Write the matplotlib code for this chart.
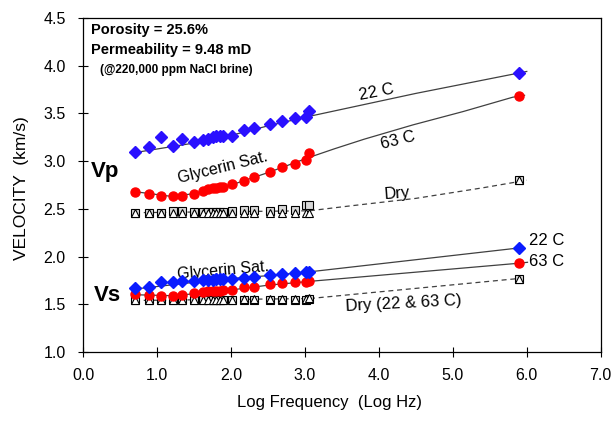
import numpy as np
import matplotlib
matplotlib.use("Agg")
import matplotlib.pyplot as plt
from matplotlib.ticker import FormatStrFormatter

plt.rcParams['font.family'] = ['Liberation Sans', 'DejaVu Sans']

# Log frequency of the low-frequency measurements (same for all series)
freq = [0.70, 0.89, 1.05, 1.22, 1.34, 1.50, 1.62, 1.69, 1.75, 1.80,
        1.85, 1.89, 2.01, 2.17, 2.31, 2.52, 2.69, 2.87, 3.01, 3.06]
freq_hi = 5.89  # ultrasonic point

# Vp, glycerin saturated
vp_22 = [3.10, 3.15, 3.25, 3.16, 3.23, 3.20, 3.22, 3.23, 3.25, 3.26,
         3.26, 3.26, 3.26, 3.33, 3.35, 3.39, 3.42, 3.45, 3.46, 3.53]
vp_63 = [2.68, 2.66, 2.64, 2.63, 2.64, 2.66, 2.69, 2.71, 2.72, 2.72,
         2.73, 2.73, 2.76, 2.79, 2.83, 2.89, 2.94, 2.97, 3.01, 3.09]
vp_22_hi = 3.92
vp_63_hi = 3.68

# Vp, dry
vp_dry22 = [2.46, 2.46, 2.46, 2.48, 2.48, 2.47, 2.47, 2.47, 2.47, 2.47,
            2.47, 2.47, 2.48, 2.49, 2.49, 2.48, 2.50, 2.49, 2.54, 2.54]
vp_dry63 = [2.46, 2.46, 2.46, 2.46, 2.46, 2.46, 2.46, 2.46, 2.46, 2.46,
            2.46, 2.46, 2.46, 2.46, 2.46, 2.46, 2.46, 2.46, 2.46, 2.46]
vp_dry_hi = 2.80

# Vs, glycerin saturated
vs_22 = [1.67, 1.68, 1.73, 1.73, 1.74, 1.74, 1.75, 1.75, 1.75, 1.76,
         1.77, 1.77, 1.77, 1.78, 1.79, 1.81, 1.82, 1.83, 1.84, 1.84]
vs_63 = [1.61, 1.60, 1.59, 1.59, 1.60, 1.62, 1.63, 1.64, 1.64, 1.64,
         1.64, 1.65, 1.65, 1.68, 1.68, 1.71, 1.72, 1.73, 1.73, 1.74]
vs_22_hi = 2.09
vs_63_hi = 1.93

# Vs, dry
vs_dry22 = [1.54, 1.54, 1.54, 1.54, 1.54, 1.54, 1.54, 1.54, 1.54, 1.54,
            1.54, 1.54, 1.54, 1.55, 1.55, 1.55, 1.55, 1.55, 1.55, 1.56]
vs_dry63 = [1.55, 1.55, 1.55, 1.55, 1.55, 1.55, 1.55, 1.55, 1.55, 1.55,
            1.55, 1.55, 1.55, 1.56, 1.56, 1.56, 1.56, 1.56, 1.56, 1.57]
vs_dry_hi = 1.77

# trend curves as drawn in the figure
tr_vp22_f = [0.70, 1.50, 2.00, 2.50, 3.06, 4.50, 6.00]
tr_vp22_v = [3.09, 3.19, 3.27, 3.37, 3.47, 3.71, 3.94]
tr_vp63_f = [0.70, 1.20, 1.50, 2.00, 2.50, 3.06, 3.40, 3.80, 4.46, 5.14, 5.81, 5.97]
tr_vp63_v = [2.68, 2.63, 2.66, 2.75, 2.88, 3.04, 3.13, 3.23, 3.38, 3.52, 3.67, 3.69]
tr_vpdry_f = [0.70, 3.06, 3.60, 4.50, 5.40, 6.00]
tr_vpdry_v = [2.46, 2.48, 2.53, 2.61, 2.72, 2.80]
tr_vs22_f = [0.70, 1.50, 2.00, 2.50, 3.06, 5.89]
tr_vs22_v = [1.66, 1.73, 1.77, 1.80, 1.84, 2.09]
tr_vs63_f = [0.70, 1.20, 1.50, 2.00, 2.50, 3.06, 5.89, 6.01]
tr_vs63_v = [1.60, 1.59, 1.61, 1.65, 1.70, 1.74, 1.93, 1.94]
tr_vsdry_f = [0.70, 3.06, 5.89, 6.00]
tr_vsdry_v = [1.54, 1.56, 1.77, 1.78]

fig = plt.figure(figsize=(6.12, 4.29), dpi=100)
ax = fig.add_axes([0.136, 0.1795, 0.8455, 0.7785])

line_c = '#404040'
ax.plot(tr_vp22_f, tr_vp22_v, color=line_c, lw=0.9, zorder=1)
ax.plot(tr_vp63_f, tr_vp63_v, color=line_c, lw=0.9, zorder=1)
ax.plot(tr_vs22_f, tr_vs22_v, color=line_c, lw=0.9, zorder=1)
ax.plot(tr_vs63_f, tr_vs63_v, color=line_c, lw=0.9, zorder=1)
ax.plot(tr_vpdry_f, tr_vpdry_v, color=line_c, lw=0.9, ls=(0, (4, 3)), zorder=1)
ax.plot(tr_vsdry_f, tr_vsdry_v, color=line_c, lw=0.9, ls=(0, (4, 3)), zorder=1)

fall = freq + [freq_hi]

# dry symbols
for v, hi in [(vp_dry22, vp_dry_hi), (vs_dry22, vs_dry_hi)]:
    ax.plot(fall, v + [hi], ls='none', marker='s', ms=5.5, mfc='#d8d8d8',
            mec='black', mew=0.8, zorder=2)
for v, hi in [(vp_dry63, vp_dry_hi), (vs_dry63, vs_dry_hi)]:
    ax.plot(fall, v + [hi], ls='none', marker='^', ms=5.5, mfc='white',
            mec='black', mew=0.8, zorder=3)

# saturated symbols
ax.plot(fall, vp_63 + [vp_63_hi], ls='none', marker='o', ms=6.5, color='#ff0000', zorder=4)
ax.plot(fall, vs_63 + [vs_63_hi], ls='none', marker='o', ms=6.5, color='#ff0000', zorder=4)
ax.plot(fall, vp_22 + [vp_22_hi], ls='none', marker='D', ms=6, color='#2a10ff', zorder=5)
ax.plot(fall, vs_22 + [vs_22_hi], ls='none', marker='D', ms=6, color='#0a1cff', zorder=5)

ax.set_xlim(0, 7)
ax.set_ylim(1.0, 4.5)
ax.set_xticks(np.arange(0, 7.01, 1.0))
ax.set_yticks(np.arange(1.0, 4.51, 0.5))
ax.xaxis.set_major_formatter(FormatStrFormatter('%.1f'))
ax.yaxis.set_major_formatter(FormatStrFormatter('%.1f'))
ax.tick_params(direction='inout', length=7, width=0.8, labelsize=11.5)
ax.tick_params(axis='x', pad=8)
ax.tick_params(axis='y', pad=9)
for s in ax.spines.values():
    s.set_linewidth(0.9)

ax.set_xlabel('Log Frequency  (Log Hz)', fontsize=12)
ax.xaxis.set_label_coords(0.475, -0.13)
ax.set_ylabel('VELOCITY  (km/s)', fontsize=12.5)
ax.yaxis.set_label_coords(-0.105, 0.49)

# annotations
ax.text(0.10, 4.37, 'Porosity = 25.6%', fontsize=10.5, fontweight='bold', va='center')
ax.text(0.10, 4.17, 'Permeability = 9.48 mD', fontsize=10.5, fontweight='bold', va='center')
ax.text(0.23, 3.96, '(@220,000 ppm NaCl brine)', fontsize=8.5, fontweight='bold', va='center')

ax.text(0.30, 2.89, 'Vp', fontsize=16, fontweight='bold', ha='center', va='center')
ax.text(0.33, 1.59, 'Vs', fontsize=16, fontweight='bold', ha='center', va='center')

ax.text(3.97, 3.72, '22 C', fontsize=12, rotation=11, ha='center', va='center')
ax.text(4.26, 3.22, '63 C', fontsize=12, rotation=14, ha='center', va='center')
ax.text(4.24, 2.66, 'Dry', fontsize=12, rotation=4, ha='center', va='center')
ax.text(1.89, 2.93, 'Glycerin Sat.', fontsize=11.5, rotation=14, ha='center', va='center')
ax.text(1.89, 1.85, 'Glycerin Sat.', fontsize=11.5, rotation=5, ha='center', va='center')
ax.text(6.03, 2.17, '22 C', fontsize=12, ha='left', va='center')
ax.text(6.03, 1.95, '63 C', fontsize=12, ha='left', va='center')
ax.text(4.33, 1.51, 'Dry (22 & 63 C)', fontsize=12, rotation=3, ha='center', va='center')

fig.savefig('out.png', dpi=100)
